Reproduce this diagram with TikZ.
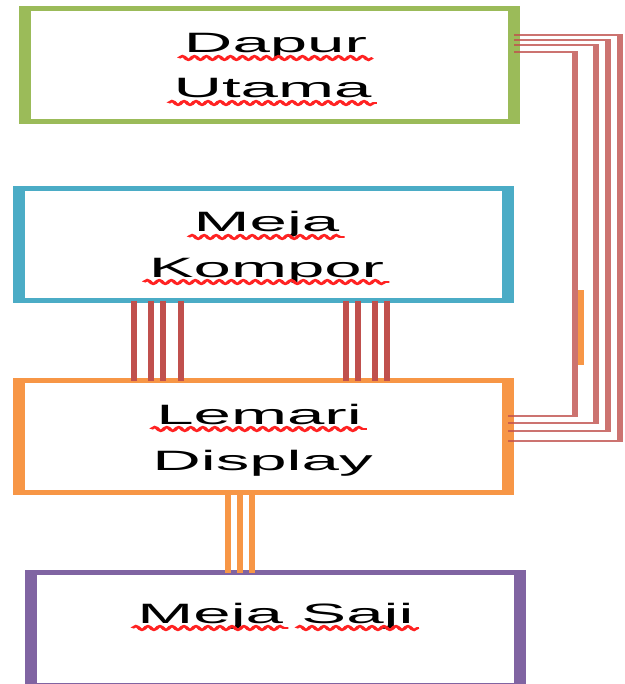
\documentclass[tikz,border=0pt]{standalone}
\usepackage{fontspec}
\setmainfont{Liberation Sans}
\usetikzlibrary{decorations.pathmorphing}

\definecolor{boxgreen}{HTML}{9BBB59}
\definecolor{boxblue}{HTML}{4BACC6}
\definecolor{boxorange}{HTML}{F79646}
\definecolor{boxpurple}{HTML}{8064A2}
\definecolor{linkred}{HTML}{C0504D}
\definecolor{spellred}{HTML}{FF2222}

\begin{document}
\begin{tikzpicture}[x=1pt,y=-1pt]
\useasboundingbox[fill=white] (0,0) rectangle (624,684);

% everything is drawn in a frame stretched 2.4 times horizontally
\begin{scope}[transform canvas={xscale=2.4}, x=0.4166667pt, y=-1pt,
  box/.style={draw, line width=5pt, outer sep=0pt, inner sep=0pt,
              minimum width={489pt/2.4}},
  lbl/.style={font=\fontsize{28}{34}\selectfont, inner sep=0pt,
              anchor=base, text=black},
  redlink/.style={draw=linkred, line width=2.5pt},
  sidelink/.style={draw=linkred, draw opacity=0.8, line width=2.8pt},
  orangelink/.style={draw=boxorange, line width=2.5pt},
  squiggle/.style={draw=spellred, line width=1.8pt, decorate,
              decoration={snake, segment length=5pt, amplitude=2pt}}]

  % boxes
  \node[box, draw=boxgreen,  minimum height=112.5pt] (dapur)   at (269.5,65.25) {};
  \node[box, draw=boxblue,   minimum height=112pt]   (kompor)  at (263.5,244.5) {};
  \node[box, draw=boxorange, minimum height=112pt]   (display) at (263.5,436.5) {};
  \node[box, draw=boxpurple, minimum height=112.5pt] (saji)    at (275.5,628.75) {};

  % labels
  \node[lbl] (tDapur)   at (275.5,53)  {Dapur};
  \node[lbl] (tUtama)   at (272.5,98)  {Utama};
  \node[lbl] (tMeja)    at (266.5,232) {Meja};
  \node[lbl] (tKompor)  at (266.5,277) {Kompor};
  \node[lbl] (tLemari)  at (259,424)   {Lemari};
  \node[lbl] (tDisplay) at (262.5,470) {Display};
  \node[lbl, anchor=base west] (tMejaS) at (137,623) {Meja};
  \node[lbl, anchor=base west] (tSaji)  at (301,623) {Saji};

  % wavy underlines
  \foreach \t in {tDapur,tUtama,tMeja,tKompor,tLemari,tMejaS,tSaji}
    \draw[squiggle] ([xshift=-2pt,yshift=-5pt]\t.base west)
                 -- ([xshift=2pt,yshift=-5pt]\t.base east);

  % Meja Kompor -- Lemari Display
  \foreach \cx in {134,151,163,181,346,358,375,387}
    \draw[redlink] (kompor.south -| \cx,0) -- (display.north -| \cx,0);

  % Lemari Display -- Meja Saji
  \foreach \cx in {228,240,252}
    \draw[orangelink] (display.south -| \cx,0) -- (saji.north -| \cx,0);

  % Dapur Utama -- Lemari Display, routed round the right side
  \foreach \ya/\cx/\yb in {35/620/441, 40/608/431, 45/596/423, 52/575/416}
    \draw[sidelink] (dapur.east |- 0,\ya) -| (\cx,\yb) -- (display.east |- 0,\yb);
  \draw[orangelink] (581,290) -- (581,365);
\end{scope}
\end{tikzpicture}
\end{document}
